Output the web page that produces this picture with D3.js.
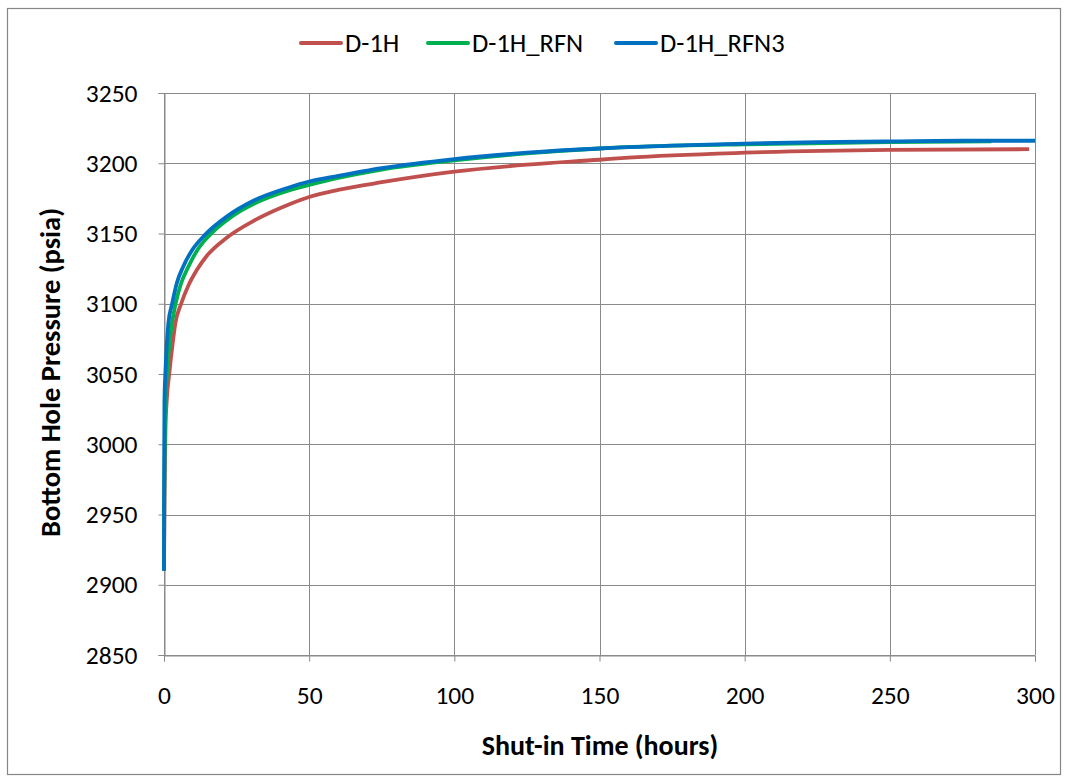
<!DOCTYPE html>
<html>
<head>
<meta charset="utf-8">
<title>Bottom Hole Pressure</title>
<script src="https://cdn.jsdelivr.net/npm/d3@7"></script>
<style>
  body { margin: 0; background: #fff; }
  text { font-family: Calibri, Carlito, "Liberation Sans", Arial, sans-serif; fill: #000; }
</style>
</head>
<body>
<script>
// data: [hours, psia]
var seriesNames = ["D-1H", "D-1H_RFN", "D-1H_RFN3"];
var seriesColors = ["#C0504D", "#00B050", "#0070C0"];

var d1h = [[0,2910],[0.2,2965],[0.5,3010],[1,3033],[1.8,3050],[3,3072],[3.9,3086],[5.9,3100],[8.4,3113],
  [11.3,3124],[14.7,3134],[21.6,3147],[31.3,3159.5],[42.8,3170.5],[50,3176],[60,3181],[75,3186.5],
  [100,3194],[125,3199],[150,3202.5],[160,3204],[200,3207.5],[250,3209.5],[298,3210]];
var d1hRfn = [[0,2910],[0.1,2960],[0.4,3025],[1,3050],[2.2,3078],[4,3100],[5.9,3114.6],[8.4,3126.4],
  [11.3,3137.6],[15.8,3149],[23.3,3162],[31.3,3171.5],[42.8,3180.5],[50,3184.5],[60,3189.5],[75,3195.5],
  [100,3202],[125,3207],[150,3210.5],[175,3212.5],[200,3213.5],[250,3215],[285,3215.5]];
var d1hRfn3 = [[0,2910],[0.05,2980],[0.15,3030],[0.5,3052],[1.5,3086],[2.8,3100],[4.4,3114.6],[6.6,3126.4],
  [9.5,3137.6],[14.1,3149],[21.6,3162],[31.3,3173.8],[42.8,3182.6],[50,3187],[60,3191],[75,3196.5],
  [100,3203],[125,3207.5],[150,3210.5],[175,3212.5],[200,3214],[225,3215],[250,3215.5],[275,3216],[300,3216]];
var allSeries = [d1h, d1hRfn, d1hRfn3];

var xTicks = [0, 50, 100, 150, 200, 250, 300];
var yTicks = [2850, 2900, 2950, 3000, 3050, 3100, 3150, 3200, 3250];

var width = 1067, height = 780;
var margin = {left: 164, right: 32, top: 93, bottom: 125};

var svg = d3.select("body").append("svg")
  .attr("width", width)
  .attr("height", height);

// outer frame
svg.append("rect")
  .attr("x", 7.5).attr("y", 8.5)
  .attr("width", 1053).attr("height", 766)
  .attr("fill", "#fff").attr("stroke", "#868686").attr("stroke-width", 1.2);

var x = d3.scaleLinear().domain([0, 300]).range([margin.left, width - margin.right]);
var y = d3.scaleLinear().domain([2850, 3250]).range([height - margin.bottom, margin.top]);

// grid
svg.append("g").selectAll("line").data(yTicks).enter().append("line")
  .attr("x1", x(0)).attr("x2", x(300))
  .attr("y1", function(d) { return Math.round(y(d)) + 0.5; })
  .attr("y2", function(d) { return Math.round(y(d)) + 0.5; })
  .attr("stroke", "#8a8a8a").attr("stroke-width", 1);
svg.append("g").selectAll("line").data(xTicks).enter().append("line")
  .attr("y1", y(2850)).attr("y2", y(3250))
  .attr("x1", function(d) { return Math.round(x(d)) + 0.5; })
  .attr("x2", function(d) { return Math.round(x(d)) + 0.5; })
  .attr("stroke", "#8a8a8a").attr("stroke-width", 1);

// axes
var xAxis = svg.append("g")
  .attr("transform", "translate(0," + (Math.round(y(2850)) + 0.5) + ")")
  .call(d3.axisBottom(x).tickValues(xTicks).tickSize(6).tickPadding(24));
var yAxis = svg.append("g")
  .attr("transform", "translate(" + (Math.round(x(0)) + 0.5) + ",0)")
  .call(d3.axisLeft(y).tickValues(yTicks).tickSize(6).tickPadding(21).tickFormat(d3.format("d")));
[xAxis, yAxis].forEach(function(a) {
  a.select(".domain").attr("stroke", "#8a8a8a");
  a.selectAll(".tick line").attr("stroke", "#8a8a8a");
  a.selectAll("text").attr("font-size", 25.5).attr("font-family", null).attr("fill", "#000");
});

// lines
var line = d3.line()
  .x(function(d) { return x(d[0]); })
  .y(function(d) { return y(d[1]); })
  .curve(d3.curveMonotoneX);

svg.append("g").selectAll("path").data(allSeries).enter().append("path")
  .attr("d", line)
  .attr("fill", "none")
  .attr("stroke", function(d, i) { return seriesColors[i]; })
  .attr("stroke-width", 3.8)
  .attr("stroke-linejoin", "round");

// axis titles
svg.append("text")
  .attr("x", 600).attr("y", 755)
  .attr("text-anchor", "middle")
  .attr("font-size", 28).attr("font-weight", "bold")
  .text("Shut-in Time (hours)");
svg.append("text")
  .attr("transform", "translate(60,372.5) rotate(-90)")
  .attr("text-anchor", "middle")
  .attr("font-size", 28.5).attr("font-weight", "bold")
  .text("Bottom Hole Pressure (psia)");

// legend
var legendX = [300, 427, 615];
var lg = svg.append("g").selectAll("g").data(seriesNames).enter().append("g")
  .attr("transform", function(d, i) { return "translate(" + legendX[i] + ",43)"; });
lg.append("line")
  .attr("x1", 1).attr("x2", 41)
  .attr("stroke", function(d, i) { return seriesColors[i]; })
  .attr("stroke-width", 4).attr("stroke-linecap", "round");
lg.append("text")
  .attr("x", 45).attr("y", 8.5)
  .attr("font-size", 26.5)
  .text(function(d) { return d; });
</script>
</body>
</html>
